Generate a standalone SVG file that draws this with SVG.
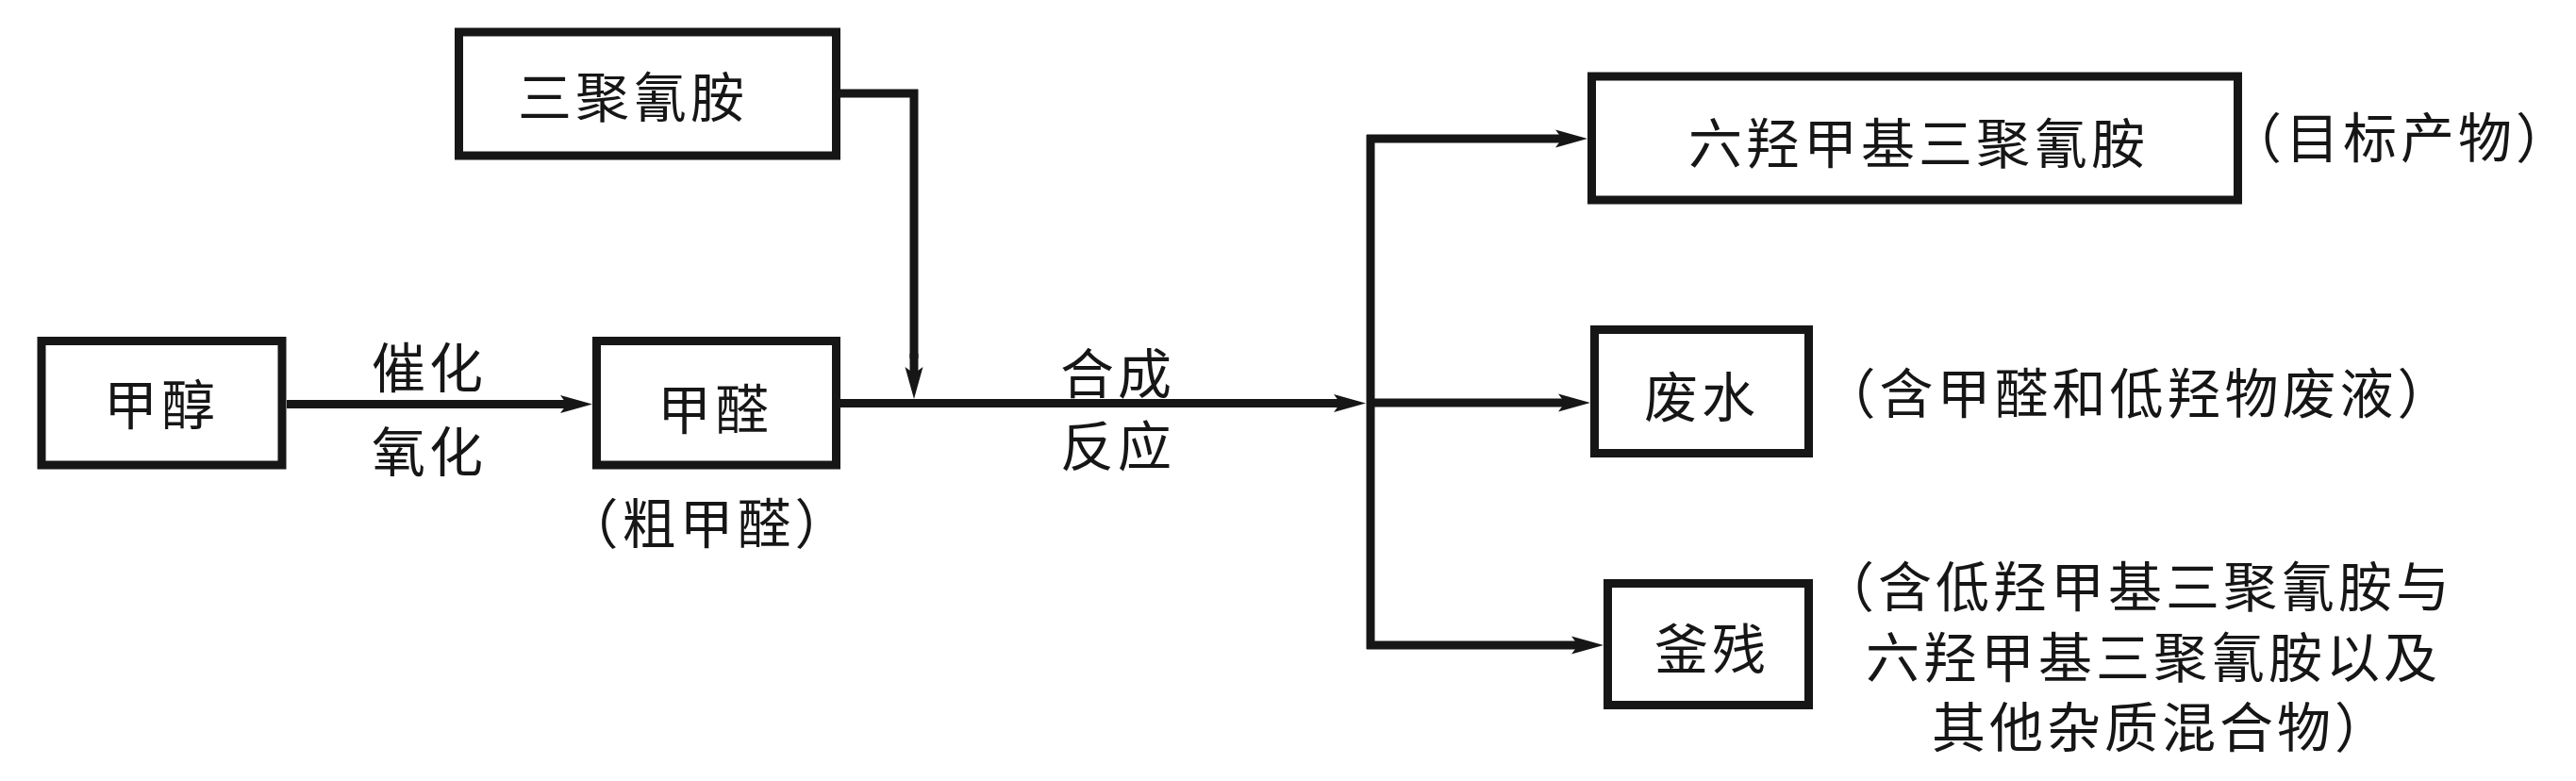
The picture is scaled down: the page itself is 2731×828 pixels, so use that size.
<svg xmlns="http://www.w3.org/2000/svg" width="2731" height="828" viewBox="0 0 2731 828">
<defs>
<style>
.box{fill:#fff;stroke:#161616;stroke-width:9}
.t{font-family:"Noto Sans CJK SC","Noto Sans CJK JP",sans-serif;font-size:57px;fill:#161616;dominant-baseline:central;letter-spacing:4px}
.m{text-anchor:middle}
.s{text-anchor:start}
.ln{fill:none;stroke:#161616;stroke-width:9;stroke-linejoin:miter}
.ar{fill:none;stroke:#161616;stroke-width:9;marker-end:url(#ah)}
</style>
<marker id="ah" viewBox="0 -10 34 20" refX="16" refY="0" markerWidth="34" markerHeight="20" markerUnits="userSpaceOnUse" orient="auto">
<path d="M0,-9.5 L34,0 L0,9.5 L7,0 Z" fill="#161616"/>
</marker>
</defs>
<rect width="2731" height="828" fill="#fff"/>
<g id="connectors">
<line class="ar" x1="304" y1="428.5" x2="610" y2="428.5"/>
<path class="ln" d="M891,99 H969 V380"/>
<line class="ar" x1="969" y1="375" x2="969" y2="405"/>
<line class="ar" x1="891" y1="427.5" x2="1430" y2="427.5"/>
<path class="ln" d="M1453,143 V688"/>
<line class="ar" x1="1449" y1="147" x2="1665" y2="147"/>
<line class="ar" x1="1453" y1="427" x2="1668" y2="427"/>
<line class="ar" x1="1449" y1="684" x2="1682" y2="684"/>
</g>
<g id="labels">
<text class="t m" x="455" y="386">催化</text>
<text class="t m" x="455" y="475">氧化</text>
<text class="t m" x="1185" y="392">合成</text>
<text class="t m" x="1185" y="469">反应</text>
</g>
<g id="n-methanol">
<rect class="box" x="44" y="361.5" width="255" height="131.5"/>
<text class="t m" x="171" y="425">甲醇</text>
</g>
<g id="n-melamine">
<rect class="box" x="486.5" y="34" width="400" height="131"/>
<text class="t m" x="671" y="98.5">三聚氰胺</text>
</g>
<g id="n-formaldehyde">
<rect class="box" x="632.5" y="361.5" width="254" height="131.5"/>
<text class="t m" x="758" y="430">甲醛</text>
<text class="t m" x="751" y="551">（粗甲醛）</text>
</g>
<g id="n-hmmm">
<rect class="box" x="1687.5" y="81" width="685" height="131"/>
<text class="t m" x="2034" y="148">六羟甲基三聚氰胺</text>
<text class="t m" x="2545" y="142">（目标产物）</text>
</g>
<g id="n-wastewater">
<rect class="box" x="1690.5" y="349.5" width="227" height="131"/>
<text class="t m" x="1804" y="417">废水</text>
<text class="t m" x="2267" y="413">（含甲醛和低羟物废液）</text>
</g>
<g id="n-residue">
<rect class="box" x="1704.5" y="618.5" width="213" height="129"/>
<text class="t m" x="1815" y="684">釜残</text>
<text class="t s" x="1930" y="618">（含低羟甲基三聚氰胺与</text>
<text class="t m" x="2283" y="693">六羟甲基三聚氰胺以及</text>
<text class="t s" x="2048" y="767">其他杂质混合物）</text>
</g>
</svg>
